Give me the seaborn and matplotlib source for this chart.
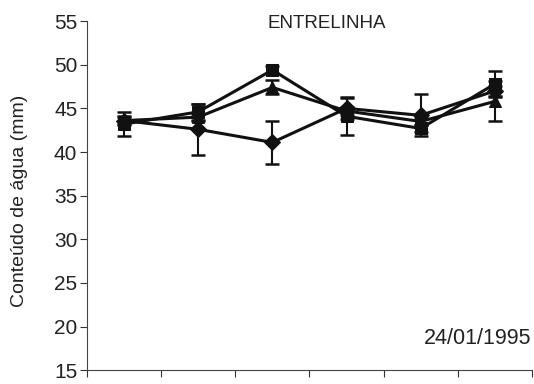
import matplotlib
matplotlib.use('Agg')
import matplotlib.pyplot as plt
import seaborn as sns
import pandas as pd

# positions of the six sampling points (centred between ticks)
posicao = [0.5, 1.5, 2.5, 3.5, 4.5, 5.5]

losango = [43.6, 42.6, 41.1, 45.0, 44.2, 47.0]
losango_err = [0.5, 2.9, 2.5, 1.2, 2.4, 0.6]
quadrado = [43.2, 44.6, 49.4, 44.1, 42.7, 47.8]
quadrado_err = [1.4, 0.9, 0.4, 2.2, 0.4, 1.5]
triangulo = [43.6, 44.0, 47.4, 44.7, 43.5, 45.8]
triangulo_err = [0.4, 0.4, 0.8, 0.5, 0.4, 2.3]

df = pd.DataFrame({
    'x': posicao * 3,
    'y': losango + quadrado + triangulo,
    'err': losango_err + quadrado_err + triangulo_err,
    'serie': ['D'] * 6 + ['S'] * 6 + ['T'] * 6,
})

sns.set_style('ticks')
plt.rcParams['font.family'] = ['Liberation Sans', 'DejaVu Sans']

fig = plt.figure(figsize=(5.34, 3.84), dpi=100)
ax = fig.add_axes([0.163, 0.036, 0.833, 0.909])

markers = {'D': 'D', 'S': 's', 'T': '^'}
for s, grp in df.groupby('serie'):
    ax.errorbar(grp['x'], grp['y'], yerr=grp['err'], fmt='none',
                ecolor='#111111', elinewidth=1.5, capsize=5, capthick=1.8, zorder=2)
sns.lineplot(data=df, x='x', y='y', style='serie', markers=markers, dashes=False,
             color='#111111', linewidth=2.2, markersize=8.5, markeredgecolor='#111111',
             legend=False, ax=ax, zorder=3)

ax.set_xlim(0, 6)
ax.set_ylim(15, 55)
ax.set_xticks(range(7))
ax.set_xticklabels([])
ax.set_yticks(range(15, 56, 5))
ax.tick_params(axis='y', labelsize=15, length=5, pad=2, colors='#333333', labelcolor='#222222')
ax.tick_params(axis='x', length=5, colors='#333333')
ax.set_xlabel('')
ax.set_ylabel('Conteúdo de água (mm)', fontsize=14, color='#222222')
ax.yaxis.set_label_coords(-0.133, 0.484)
for sp in ['top', 'right']:
    ax.spines[sp].set_visible(False)
for sp in ['left', 'bottom']:
    ax.spines[sp].set_color('#444444')

ax.text(0.54, 0.994, 'ENTRELINHA', transform=ax.transAxes, ha='center', va='center',
        fontsize=13.5, color='#222222')
ax.text(1.0, 0.092, '24/01/1995', transform=ax.transAxes, ha='right', va='center',
        fontsize=15.5, color='#222222')

fig.savefig('out.png', dpi=100)
